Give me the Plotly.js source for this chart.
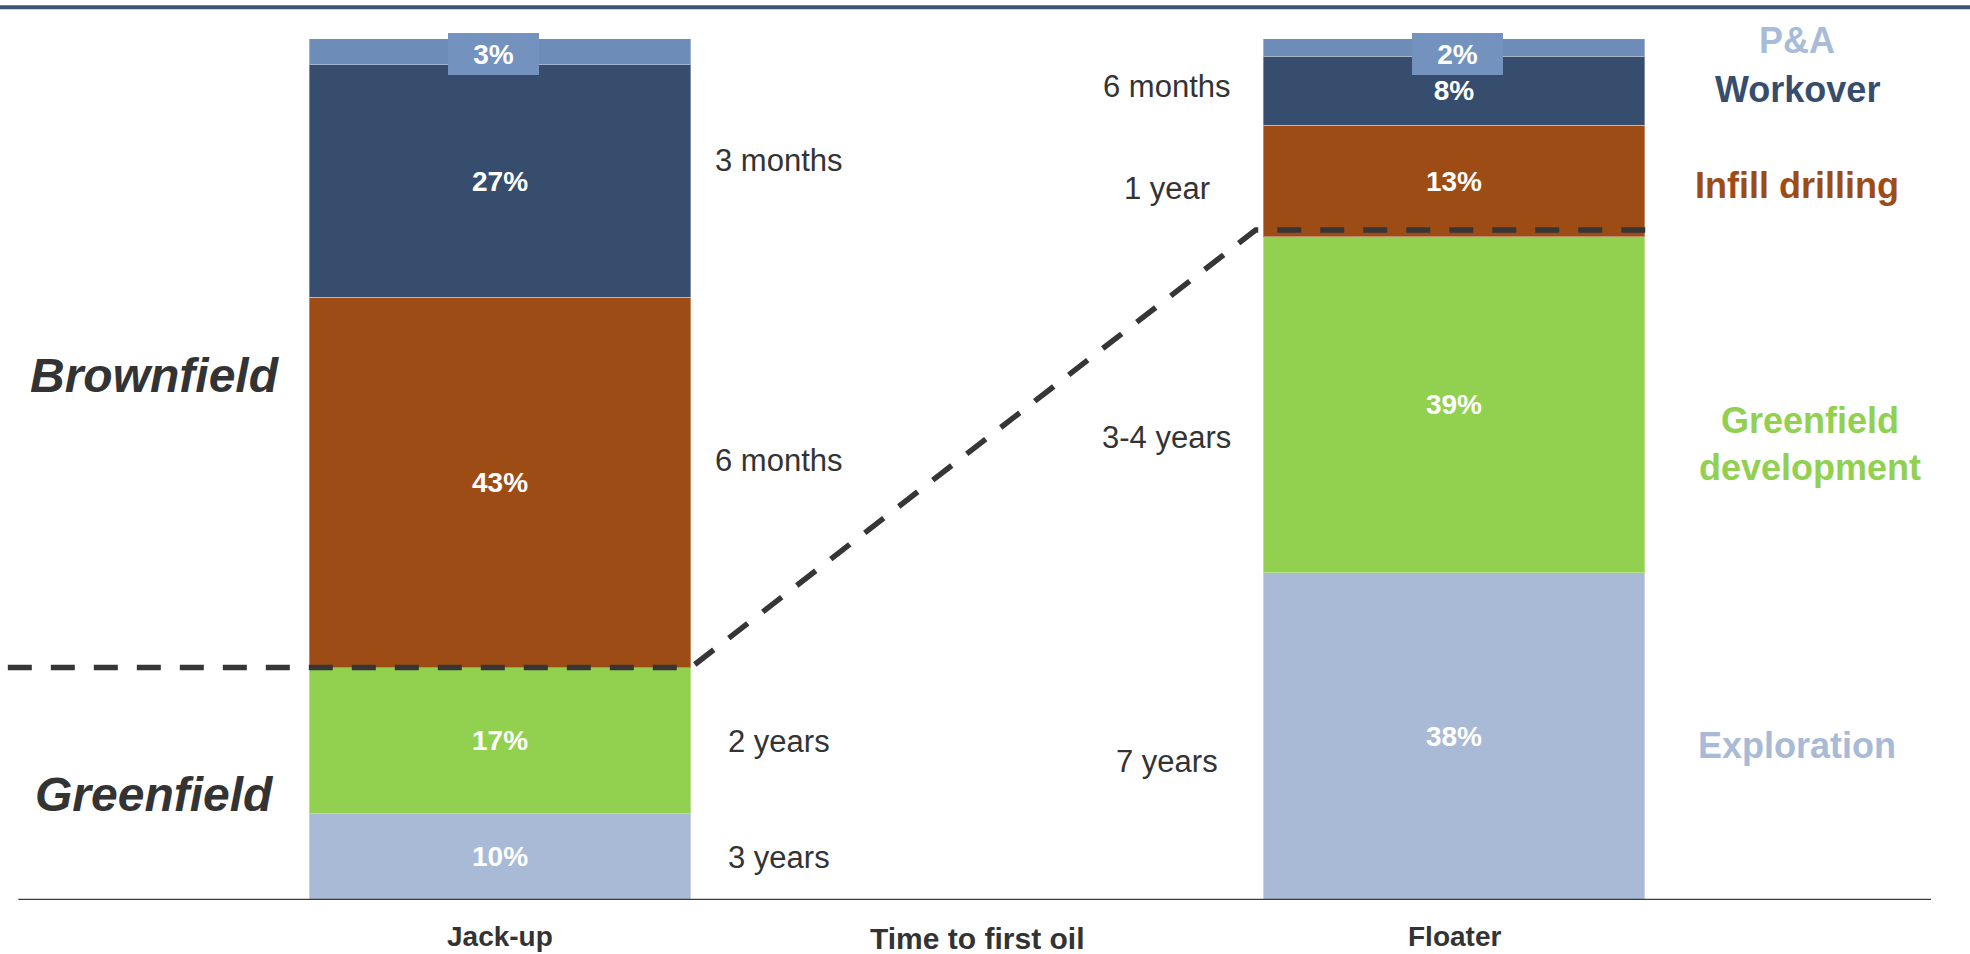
<!DOCTYPE html>
<html>
<head>
<meta charset="utf-8">
<script src="https://cdn.plot.ly/plotly-3.0.1.min.js"></script>
<style>
  html, body { margin: 0; padding: 0; background: #ffffff; }
  #chart { width: 1970px; height: 954px; }
</style>
</head>
<body>
<div id="chart"></div>
<script>
// Rig types shown as stacked columns
const categories = ['Jack-up', 'Floater'];

// Share of activity per segment (%), bottom to top
const exploration   = [10, 38];
const greenfieldDev = [17, 39];
const infillDrill   = [43, 13];
const workover      = [27, 8];
const plugAbandon   = [3, 2];

// Segment names used for the right-hand key
const segmentNames = ['Exploration', 'Greenfield<br>development', 'Infill drilling', 'Workover', 'P&A'];

// Time to first oil per segment, bottom to top (P&A has none)
const timeJackup  = ['3 years', '2 years', '6 months', '3 months'];
const timeFloater = ['7 years', '3-4 years', '1 year', '6 months'];

// Field-type group labels
const groupLabels = ['Brownfield', 'Greenfield'];
const axisCaption = 'Time to first oil';

// ---------- styling ----------
const FONT = 'Liberation Sans, Arial, Helvetica, sans-serif';
const colors = {
  exploration: '#a9bad6',
  greenfield:  '#92d050',
  infill:      '#9e4c16',
  workover:    '#374d6d',
  pa:          '#6d8cb8',
  paBox:       '#7393be',
  paText:      '#a8bcd9',
  dark:        '#333333',
  rule:        '#3c5478'
};
const BAR_W = 0.4;
const Y_MAX = 102.2;   // headroom above 100% for the P&A tags
const xs = categories.map((_, i) => i);

function segment(name, values, color, showText) {
  return {
    type: 'bar',
    name: name,
    x: xs,
    y: values,
    width: BAR_W,
    marker: { color: color, line: { color: 'rgba(255,255,255,0.35)', width: 1 } },
    text: values.map(v => v + '%'),
    textposition: showText ? 'inside' : 'none',
    insidetextanchor: 'middle',
    textangle: 0,
    textfont: { family: FONT, size: 28, color: '#ffffff', weight: 'bold' },
    hoverinfo: 'skip',
    showlegend: false
  };
}

const traces = [
  segment('Exploration', exploration, colors.exploration, true),
  segment('Greenfield development', greenfieldDev, colors.greenfield, true),
  segment('Infill drilling', infillDrill, colors.infill, true),
  segment('Workover', workover, colors.workover, true),
  segment('P&A', plugAbandon, colors.pa, false)
];

// Dashed divider between greenfield and brownfield activity
const gfTop = xs.map(i => exploration[i] + greenfieldDev[i]);
const LIFT = 0.8; // keeps the right-hand dash just clear of the segment edge
traces.push({
  type: 'scatter',
  mode: 'lines',
  x: [-0.516, BAR_W / 2, 1 - BAR_W / 2 - 0.008, 1.213],
  y: [gfTop[0], gfTop[0], gfTop[1] + LIFT, gfTop[1] + LIFT],
  line: { color: '#363636', width: 5.5, dash: '24px,19px' },
  cliponaxis: false,
  hoverinfo: 'skip',
  showlegend: false
});

const annotations = [];
const shapes = [];

// Top rule across the page
shapes.push({
  type: 'line', xref: 'paper', yref: 'paper',
  x0: -0.003, x1: 1.021, y0: 1.0146, y1: 1.0146,
  line: { color: colors.rule, width: 4 }
});

// Baseline
shapes.push({
  type: 'line', xref: 'x', yref: 'y',
  x0: -0.505, x1: 1.5, y0: 0, y1: 0,
  line: { color: '#3c3c3c', width: 2.5 },
  layer: 'above'
});

// P&A value tags sitting on top of each column
const tagShift = [-7, 3];
xs.forEach(i => {
  const top = exploration[i] + greenfieldDev[i] + infillDrill[i] + workover[i] + plugAbandon[i];
  annotations.push({
    x: i, y: top, xref: 'x', yref: 'y', xanchor: 'center', yanchor: 'top',
    yshift: 6, xshift: tagShift[i],
    width: 91, height: 42, align: 'center', valign: 'middle',
    bgcolor: colors.paBox, borderpad: 0, borderwidth: 0,
    text: plugAbandon[i] + '%', showarrow: false,
    font: { family: FONT, size: 28, color: '#ffffff', weight: 'bold' }
  });
});

// Column captions under the baseline
categories.forEach((c, i) => {
  annotations.push({
    x: i, y: 0, xref: 'x', yref: 'y', yanchor: 'middle', yshift: -36,
    text: c, showarrow: false,
    font: { family: FONT, size: 28, color: colors.dark, weight: 'bold' }
  });
});
annotations.push({
  x: 0.5, y: 0, xref: 'x', yref: 'y', yanchor: 'middle', yshift: -38,
  text: axisCaption, showarrow: false,
  font: { family: FONT, size: 30, color: colors.dark, weight: 'bold' }
});

// Time-to-first-oil labels beside each column
const jackTimeY  = [4.9, 18.4, 51.0, 85.9];
const floatTimeY = [16.1, 53.7, 82.6, 94.5];
timeJackup.forEach((t, k) => {
  annotations.push({
    x: 0.2925, y: jackTimeY[k], xref: 'x', yref: 'y', yanchor: 'middle',
    text: t, showarrow: false,
    font: { family: FONT, size: 31, color: colors.dark }
  });
});
timeFloater.forEach((t, k) => {
  annotations.push({
    x: 0.699, y: floatTimeY[k], xref: 'x', yref: 'y', yanchor: 'middle',
    text: t, showarrow: false,
    font: { family: FONT, size: 31, color: colors.dark }
  });
});

// Segment key on the right
const keyColors = [colors.exploration, colors.greenfield, colors.infill, colors.workover, colors.paText];
const keyY = [17.9, 53.0, 83.0, 94.1, 99.8];
const keyX = [1.3596, 1.373, 1.3596, 1.3596, 1.3596];
segmentNames.forEach((s, k) => {
  annotations.push({
    x: keyX[k], y: keyY[k], xref: 'x', yref: 'y', yanchor: 'middle',
    text: s, showarrow: false,
    font: { family: FONT, size: 36, color: keyColors[k], weight: 'bold' }
  });
});

// Field-type group labels on the left
const groupY = [60.9, 12.3];
groupLabels.forEach((g, k) => {
  annotations.push({
    x: -0.362, y: groupY[k], xref: 'x', yref: 'y', yanchor: 'middle',
    text: '<i>' + g + '</i>', showarrow: false,
    font: { family: FONT, size: 48, color: colors.dark, weight: 'bold', style: 'italic' }
  });
});

const layout = {
  width: 1970,
  height: 954,
  margin: { l: 4, r: 39, t: 20, b: 54, pad: 0 },
  paper_bgcolor: '#ffffff',
  plot_bgcolor: '#ffffff',
  barmode: 'stack',
  showlegend: false,
  xaxis: {
    range: [-0.52, 1.5],
    showgrid: false, zeroline: false, showline: false,
    showticklabels: false, ticks: '', fixedrange: true
  },
  yaxis: {
    range: [0, Y_MAX],
    showgrid: false, zeroline: false, showline: false,
    showticklabels: false, ticks: '', fixedrange: true
  },
  shapes: shapes,
  annotations: annotations
};

Plotly.newPlot('chart', traces, layout, { displayModeBar: false, staticPlot: true });
</script>
</body>
</html>
